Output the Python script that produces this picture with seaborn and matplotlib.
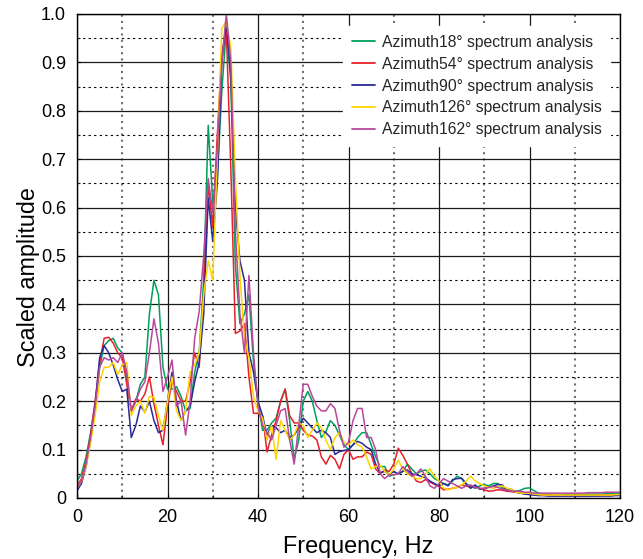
import numpy as np
import pandas as pd
import matplotlib
matplotlib.use("Agg")
import matplotlib.pyplot as plt
import seaborn as sns
from matplotlib.ticker import MultipleLocator, FuncFormatter

# ---------------- data ----------------
freq = list(range(0, 121))

az18 = [0.035, 0.05, 0.085, 0.135, 0.195, 0.27, 0.315, 0.325, 0.33, 0.31,
        0.30, 0.25, 0.18, 0.2, 0.235, 0.25, 0.38, 0.45, 0.42, 0.27,
        0.225, 0.225, 0.23, 0.21, 0.18, 0.185, 0.26, 0.3, 0.45, 0.77,
        0.61, 0.66, 0.84, 0.97, 0.86, 0.48, 0.36, 0.38, 0.42, 0.28,
        0.2, 0.14, 0.14, 0.155, 0.165, 0.2, 0.225, 0.16, 0.08, 0.12,
        0.2, 0.22, 0.2, 0.16, 0.125, 0.137, 0.16, 0.15, 0.13, 0.11,
        0.1, 0.11, 0.125, 0.135, 0.135, 0.11, 0.085, 0.065, 0.065, 0.045,
        0.048, 0.05, 0.055, 0.07, 0.06, 0.05, 0.055, 0.058, 0.05, 0.04,
        0.035, 0.03, 0.027, 0.035, 0.045, 0.04, 0.028, 0.024, 0.02, 0.025,
        0.028, 0.025, 0.03, 0.03, 0.02, 0.018, 0.014, 0.014, 0.016, 0.02,
        0.021, 0.015, 0.01, 0.007, 0.007, 0.006, 0.006, 0.006, 0.007, 0.007,
        0.007, 0.007, 0.008, 0.008, 0.008, 0.008, 0.008, 0.009, 0.009, 0.009,
        0.01]

az54 = [0.025, 0.04, 0.075, 0.13, 0.2, 0.28, 0.33, 0.332, 0.32, 0.30,
        0.29, 0.235, 0.18, 0.205, 0.2, 0.215, 0.25, 0.195, 0.15, 0.11,
        0.19, 0.24, 0.22, 0.2, 0.2, 0.24, 0.3, 0.27, 0.42, 0.65,
        0.56, 0.75, 0.92, 0.965, 0.68, 0.34, 0.345, 0.36, 0.25, 0.175,
        0.175, 0.17, 0.095, 0.13, 0.16, 0.2, 0.225, 0.17, 0.155, 0.155,
        0.14, 0.13, 0.128, 0.12, 0.085, 0.07, 0.088, 0.08, 0.06, 0.09,
        0.1, 0.08, 0.085, 0.085, 0.095, 0.09, 0.06, 0.05, 0.058, 0.055,
        0.07, 0.103, 0.088, 0.07, 0.05, 0.035, 0.032, 0.038, 0.033, 0.028,
        0.024, 0.017, 0.018, 0.02, 0.022, 0.027, 0.025, 0.022, 0.024, 0.02,
        0.017, 0.014, 0.015, 0.017, 0.016, 0.014, 0.013, 0.012, 0.01, 0.009,
        0.008, 0.007, 0.006, 0.006, 0.006, 0.005, 0.005, 0.005, 0.005, 0.005,
        0.005, 0.005, 0.005, 0.005, 0.005, 0.005, 0.006, 0.006, 0.006, 0.006,
        0.006]

az90 = [0.015, 0.03, 0.065, 0.12, 0.19, 0.29, 0.315, 0.3, 0.275, 0.245,
        0.22, 0.225, 0.125, 0.15, 0.19, 0.178, 0.2, 0.16, 0.135, 0.14,
        0.2, 0.26, 0.2, 0.16, 0.18, 0.19, 0.24, 0.28, 0.38, 0.62,
        0.53, 0.65, 0.9, 0.985, 0.87, 0.6, 0.49, 0.45, 0.3, 0.26,
        0.2, 0.17, 0.13, 0.15, 0.145, 0.135, 0.14, 0.125, 0.13, 0.145,
        0.165, 0.155, 0.145, 0.135, 0.14, 0.135, 0.125, 0.09, 0.096, 0.098,
        0.1, 0.11, 0.117, 0.113, 0.105, 0.1, 0.07, 0.052, 0.055, 0.048,
        0.055, 0.05, 0.055, 0.058, 0.05, 0.048, 0.045, 0.042, 0.035, 0.03,
        0.025, 0.03, 0.025, 0.038, 0.04, 0.041, 0.03, 0.02, 0.027, 0.018,
        0.02, 0.022, 0.025, 0.028, 0.027, 0.015, 0.018, 0.012, 0.01, 0.008,
        0.007, 0.006, 0.005, 0.005, 0.004, 0.004, 0.004, 0.004, 0.004, 0.004,
        0.004, 0.004, 0.004, 0.004, 0.004, 0.004, 0.004, 0.004, 0.004, 0.005,
        0.005]

az126 = [0.02, 0.035, 0.065, 0.115, 0.17, 0.24, 0.27, 0.27, 0.28, 0.255,
         0.275, 0.28, 0.17, 0.19, 0.2, 0.175, 0.21, 0.208, 0.17, 0.14,
         0.2, 0.25, 0.18, 0.16, 0.18, 0.26, 0.275, 0.3, 0.42, 0.49,
         0.45, 0.7, 0.97, 0.985, 0.93, 0.66, 0.46, 0.33, 0.29, 0.21,
         0.18, 0.165, 0.12, 0.15, 0.08, 0.16, 0.14, 0.12, 0.13, 0.155,
         0.15, 0.125, 0.14, 0.155, 0.145, 0.12, 0.1, 0.125, 0.135, 0.115,
         0.11, 0.12, 0.11, 0.105, 0.085, 0.06, 0.065, 0.068, 0.055, 0.048,
         0.06, 0.078, 0.06, 0.05, 0.045, 0.04, 0.04, 0.05, 0.06, 0.045,
         0.035, 0.02, 0.017, 0.02, 0.022, 0.027, 0.035, 0.045, 0.035, 0.03,
         0.025, 0.022, 0.02, 0.024, 0.025, 0.02, 0.018, 0.012, 0.01, 0.01,
         0.01, 0.008, 0.007, 0.006, 0.006, 0.006, 0.006, 0.006, 0.006, 0.006,
         0.006, 0.006, 0.006, 0.006, 0.006, 0.006, 0.006, 0.006, 0.006, 0.007,
         0.007]

az162 = [0.02, 0.035, 0.07, 0.125, 0.19, 0.27, 0.29, 0.285, 0.29, 0.28,
         0.3, 0.26, 0.18, 0.2, 0.225, 0.24, 0.3, 0.37, 0.32, 0.22,
         0.25, 0.285, 0.19, 0.2, 0.13, 0.2, 0.33, 0.385, 0.5, 0.66,
         0.59, 0.72, 0.9, 1.0, 0.9, 0.55, 0.38, 0.3, 0.46, 0.3,
         0.19, 0.15, 0.135, 0.12, 0.15, 0.18, 0.185, 0.12, 0.07, 0.15,
         0.235, 0.235, 0.21, 0.19, 0.18, 0.18, 0.195, 0.185, 0.14, 0.105,
         0.115, 0.16, 0.185, 0.185, 0.125, 0.125, 0.1, 0.05, 0.04, 0.048,
         0.048, 0.05, 0.065, 0.055, 0.045, 0.05, 0.06, 0.045, 0.025, 0.02,
         0.03, 0.04, 0.035, 0.03, 0.025, 0.02, 0.025, 0.027, 0.022, 0.02,
         0.02, 0.022, 0.024, 0.022, 0.018, 0.016, 0.014, 0.014, 0.014, 0.012,
         0.012, 0.01, 0.01, 0.01, 0.01, 0.01, 0.01, 0.01, 0.01, 0.01,
         0.01, 0.01, 0.01, 0.011, 0.011, 0.011, 0.011, 0.012, 0.012, 0.012,
         0.012]

series_labels = ["Azimuth18° spectrum analysis", "Azimuth54° spectrum analysis",
                 "Azimuth90° spectrum analysis", "Azimuth126° spectrum analysis",
                 "Azimuth162° spectrum analysis"]
series_values = [az18, az54, az90, az126, az162]
series_colors = ["#00a05a", "#e8202a", "#2a2a98", "#ffd500", "#b8489c"]

x_ticks = [0, 20, 40, 60, 80, 100, 120]
y_ticks = [0, 0.1, 0.2, 0.3, 0.4, 0.5, 0.6, 0.7, 0.8, 0.9, 1.0]

df = pd.concat([pd.DataFrame({"Frequency": freq, "Amplitude": v, "Series": lab})
                for lab, v in zip(series_labels, series_values)], ignore_index=True)

# ---------------- style ----------------
sns.set_theme(style="white")
plt.rcParams["font.family"] = ["Liberation Sans", "DejaVu Sans"]

fig = plt.figure(figsize=(6.43, 5.59), dpi=100)
ax = fig.add_axes([77 / 643, 61 / 559, 543 / 643, 484 / 559])

sns.lineplot(data=df, x="Frequency", y="Amplitude", hue="Series",
             palette=dict(zip(series_labels, series_colors)),
             hue_order=series_labels, linewidth=1.1, estimator=None,
             sort=False, ax=ax)

ax.set_xlim(0, 120)
ax.set_ylim(0, 1.0)
ax.set_xticks(x_ticks)
ax.set_yticks(y_ticks)
ax.xaxis.set_minor_locator(MultipleLocator(10))
ax.yaxis.set_minor_locator(MultipleLocator(0.05))
ax.yaxis.set_major_formatter(FuncFormatter(lambda v, p: "0" if abs(v) < 1e-9 else f"{v:.1f}"))

ax.set_axisbelow(True)
ax.grid(which="major", color="#1a1a1a", linestyle="-", linewidth=0.9)
ax.xaxis.grid(which="minor", color="#707070", linestyle=(0, (1, 2)), linewidth=1.5)
ax.yaxis.grid(which="minor", color="#000000", linestyle=(0, (2, 3)), linewidth=0.8)

for s in ax.spines.values():
    s.set_color("#000000")
    s.set_linewidth(1.0)

ax.tick_params(axis="both", which="major", direction="in", length=3, width=0.8,
               labelsize=13, colors="#000000")
ax.tick_params(axis="x", which="major", pad=8)
ax.tick_params(axis="y", which="major", pad=8)
ax.tick_params(axis="both", which="minor", direction="in", length=2, width=0.8)
ax.tick_params(axis="both", which="both", left=True, bottom=True)

ax.set_xlabel("Frequency, Hz", fontsize=16.8, color="#000000")
ax.set_ylabel("Scaled amplitude", fontsize=16.8, color="#000000")
ax.xaxis.set_label_coords(0.517, -0.076)
ax.yaxis.set_label_coords(-0.068, 0.456)

handles, labels = ax.get_legend_handles_labels()
leg = ax.legend(handles, labels, loc="upper left", bbox_to_anchor=(0.49, 0.975),
                borderaxespad=0.0, fontsize=11.3, frameon=True, facecolor="white",
                edgecolor="white", framealpha=1.0, fancybox=False,
                handlelength=1.5, handletextpad=0.43, labelspacing=0.44,
                borderpad=0.55)
for line in leg.get_lines():
    line.set_linewidth(1.3)

fig.savefig("out.png", dpi=100, facecolor="white")
